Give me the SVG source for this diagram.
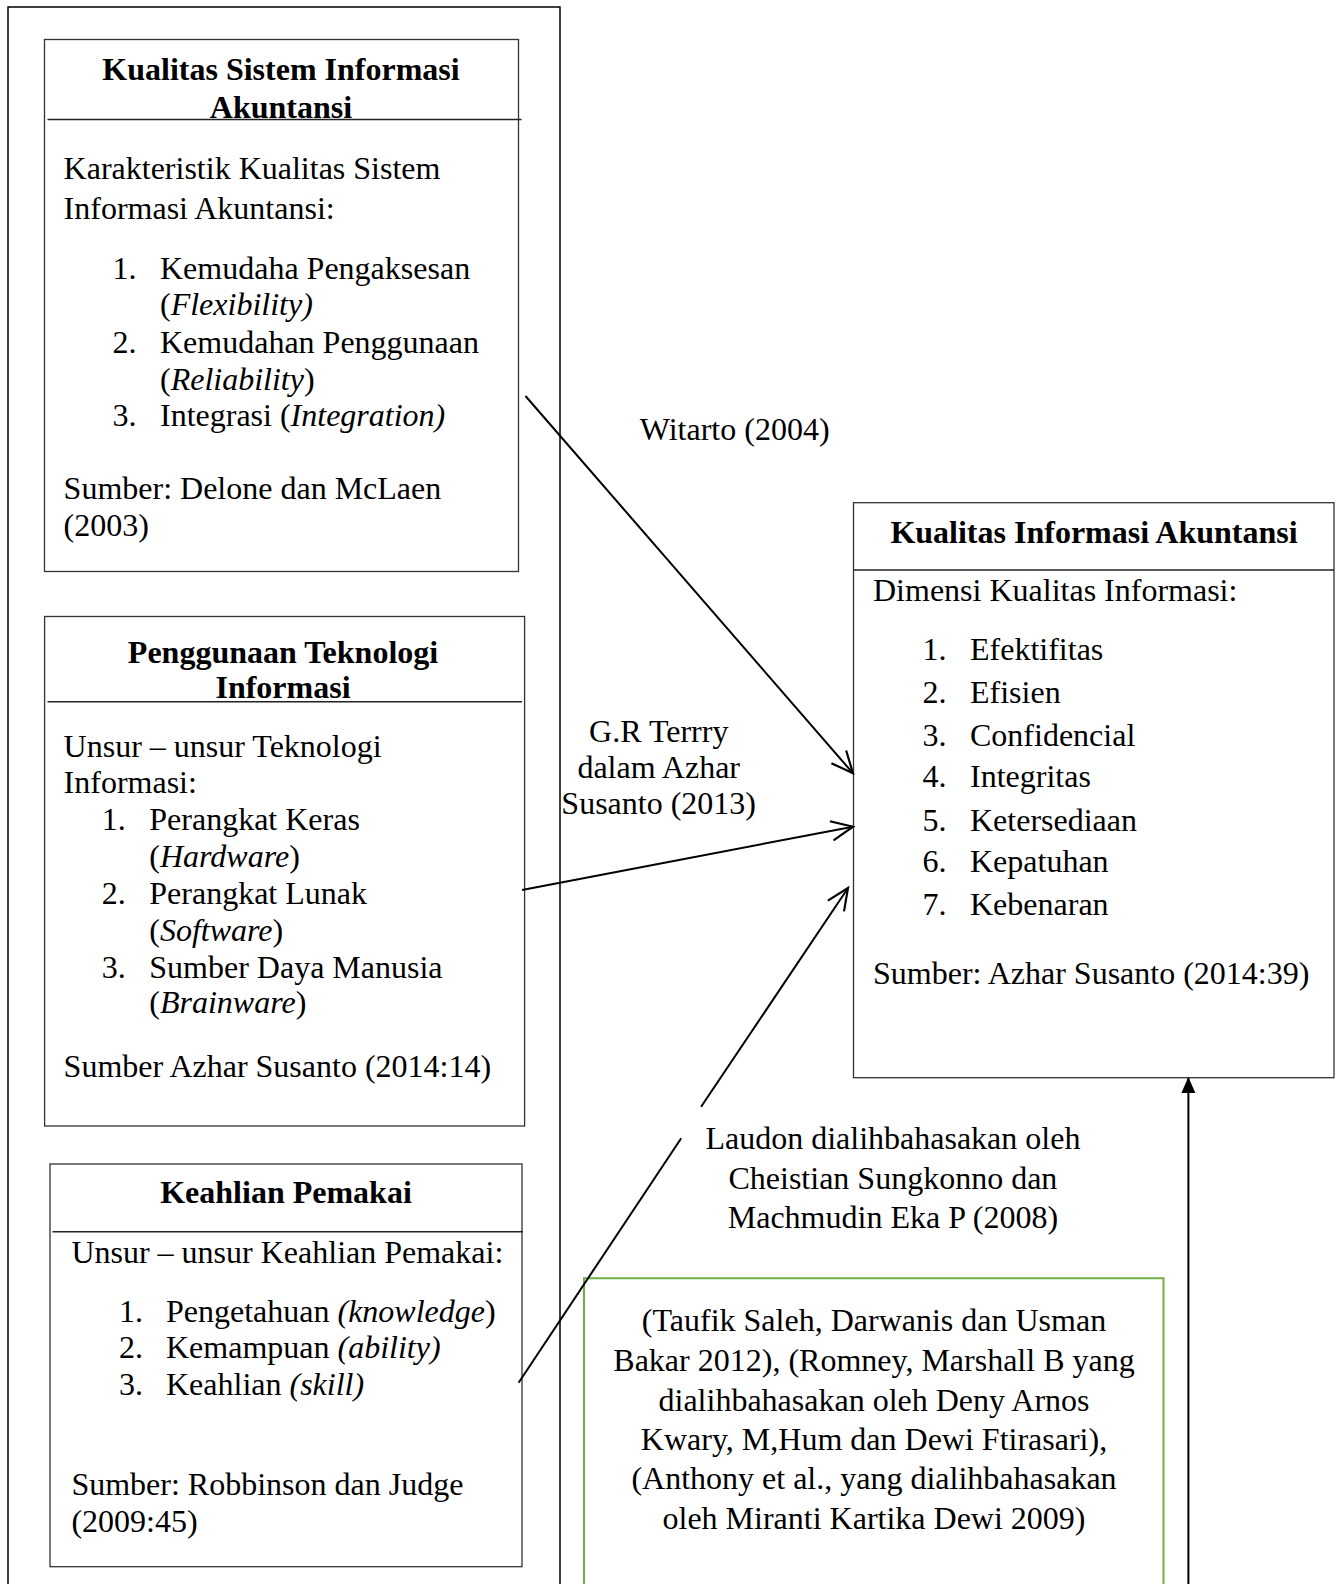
<svg xmlns="http://www.w3.org/2000/svg" width="1338" height="1584" viewBox="0 0 1338 1584">
<style>
text{font-family:"Liberation Serif","Times New Roman",serif;font-size:32px;fill:#000}
.b{font-weight:bold}
.c{text-anchor:middle}
.i{font-style:italic}
.box{fill:#fff;stroke:#333;stroke-width:1.3}
.hl{stroke:#222;stroke-width:1.6}
.con{stroke:#000;stroke-width:2;fill:none}
</style>
<defs>
<marker id="open" markerUnits="userSpaceOnUse" markerWidth="26" markerHeight="26" viewBox="0 0 24 24" refX="22" refY="12" orient="auto">
<path d="M2,3 L22,12 L2,21" fill="none" stroke="#000" stroke-width="2"/>
</marker>
<marker id="solid" markerUnits="userSpaceOnUse" markerWidth="16" markerHeight="20" viewBox="0 0 16 20" refX="15" refY="8" orient="auto">
<path d="M0,1 L16,8 L0,15 Z" fill="#000"/>
</marker>
</defs>

<path d="M8,1584 V7 H560 V1584" fill="none" stroke="#000" stroke-width="1.5"/>

<g id="node-ksia">
<rect class="box" x="44.5" y="39.5" width="474" height="532"/>
<line class="hl" x1="47.5" y1="119.5" x2="521.5" y2="119.5"/>
<text class="b c" x="281" y="79.5">Kualitas Sistem Informasi</text>
<text class="b c" x="281" y="118">Akuntansi</text>
<text x="63.6" y="179">Karakteristik Kualitas Sistem</text>
<text x="63.6" y="218.5">Informasi Akuntansi:</text>
<text x="112.5" y="278.5">1.</text><text x="160" y="278.5">Kemudaha Pengaksesan</text>
<text x="160" y="314.8">(<tspan class="i">Flexibility)</tspan></text>
<text x="112.5" y="352.6">2.</text><text x="160" y="352.6">Kemudahan Penggunaan</text>
<text x="160" y="390">(<tspan class="i">Reliability</tspan>)</text>
<text x="112.5" y="426">3.</text><text x="160" y="426">Integrasi (<tspan class="i">Integration)</tspan></text>
<text x="63.6" y="499">Sumber: Delone dan McLaen</text>
<text x="63.6" y="536">(2003)</text>
</g>

<g id="node-pti">
<rect class="box" x="44.6" y="616.5" width="480" height="509.5"/>
<line class="hl" x1="47.5" y1="701.7" x2="522" y2="701.7"/>
<text class="b c" x="283" y="662.7">Penggunaan Teknologi</text>
<text class="b c" x="283" y="698.3">Informasi</text>
<text x="63.6" y="756.7">Unsur – unsur Teknologi</text>
<text x="63.6" y="792.7">Informasi:</text>
<text x="101.8" y="830">1.</text><text x="149.3" y="830">Perangkat Keras</text>
<text x="149.3" y="866.7">(<tspan class="i">Hardware</tspan>)</text>
<text x="101.8" y="904">2.</text><text x="149.3" y="904">Perangkat Lunak</text>
<text x="149.3" y="940.7">(<tspan class="i">Software</tspan>)</text>
<text x="101.8" y="977.7">3.</text><text x="149.3" y="977.7">Sumber Daya Manusia</text>
<text x="149.3" y="1013.3">(<tspan class="i">Brainware</tspan>)</text>
<text x="63.6" y="1077.3">Sumber Azhar Susanto (2014:14)</text>
</g>

<g id="node-kp">
<rect class="box" x="50" y="1164" width="472" height="402.7"/>
<line class="hl" x1="52.5" y1="1231.7" x2="523" y2="1231.7"/>
<text class="b c" x="286" y="1203.3">Keahlian Pemakai</text>
<text x="71.4" y="1263.3">Unsur – unsur Keahlian Pemakai:</text>
<text x="118.9" y="1321.7">1.</text><text x="166" y="1321.7">Pengetahuan <tspan class="i">(knowledge</tspan>)</text>
<text x="118.9" y="1358.3">2.</text><text x="166" y="1358.3">Kemampuan <tspan class="i">(ability)</tspan></text>
<text x="118.9" y="1395">3.</text><text x="166" y="1395">Keahlian <tspan class="i">(skill)</tspan></text>
<text x="71.4" y="1495">Sumber: Robbinson dan Judge</text>
<text x="71.4" y="1531.7">(2009:45)</text>
</g>

<g id="node-kia">
<rect class="box" x="853.5" y="502.7" width="480.5" height="575"/>
<line class="hl" x1="853.5" y1="570" x2="1334" y2="570"/>
<text class="b c" x="1094" y="542.7">Kualitas Informasi Akuntansi</text>
<text x="873" y="600.7">Dimensi Kualitas Informasi:</text>
<text x="922.6" y="660">1.</text><text x="970" y="660">Efektifitas</text>
<text x="922.6" y="703.3">2.</text><text x="970" y="703.3">Efisien</text>
<text x="922.6" y="745.7">3.</text><text x="970" y="745.7">Confidencial</text>
<text x="922.6" y="787.3">4.</text><text x="970" y="787.3">Integritas</text>
<text x="922.6" y="830.7">5.</text><text x="970" y="830.7">Ketersediaan</text>
<text x="922.6" y="872.3">6.</text><text x="970" y="872.3">Kepatuhan</text>
<text x="922.6" y="915">7.</text><text x="970" y="915">Kebenaran</text>
<text x="873" y="984.2">Sumber: Azhar Susanto (2014:39)</text>
</g>

<g id="node-refs">
<path d="M1163.5,1584 V1278.3 H584 V1584" fill="#fff" stroke="#70ad47" stroke-width="2"/>
<text class="c" x="874" y="1331.3">(Taufik Saleh, Darwanis dan Usman</text>
<text class="c" x="874" y="1370.8">Bakar 2012), (Romney, Marshall B yang</text>
<text class="c" x="874" y="1411.2">dialihbahasakan oleh Deny Arnos</text>
<text class="c" x="874" y="1450.3">Kwary, M,Hum dan Dewi Ftirasari),</text>
<text class="c" x="874" y="1489.4">(Anthony et al., yang dialihbahasakan</text>
<text class="c" x="874" y="1528.9">oleh Miranti Kartika Dewi 2009)</text>
</g>

<g id="connectors">
<line class="con" x1="525.5" y1="396" x2="853" y2="773.3" marker-end="url(#open)"/>
<line class="con" x1="522" y1="890" x2="853" y2="826.7" marker-end="url(#open)"/>
<line class="con" x1="518.6" y1="1382.7" x2="681.2" y2="1138.2"/>
<line class="con" x1="701.1" y1="1106.8" x2="848" y2="888" marker-end="url(#open)"/>
<line class="con" x1="1188.4" y1="1584" x2="1188.4" y2="1078" marker-end="url(#solid)"/>
</g>

<g id="labels">
<text x="639.8" y="440">Witarto (2004)</text>
<text class="c" x="658.7" y="741.7">G.R Terrry</text>
<text class="c" x="658.7" y="778.3">dalam Azhar</text>
<text class="c" x="658.7" y="814">Susanto (2013)</text>
<text class="c" x="892.9" y="1148.5">Laudon dialihbahasakan oleh</text>
<text class="c" x="892.9" y="1189">Cheistian Sungkonno dan</text>
<text class="c" x="892.9" y="1228">Machmudin Eka P (2008)</text>
</g>
</svg>
